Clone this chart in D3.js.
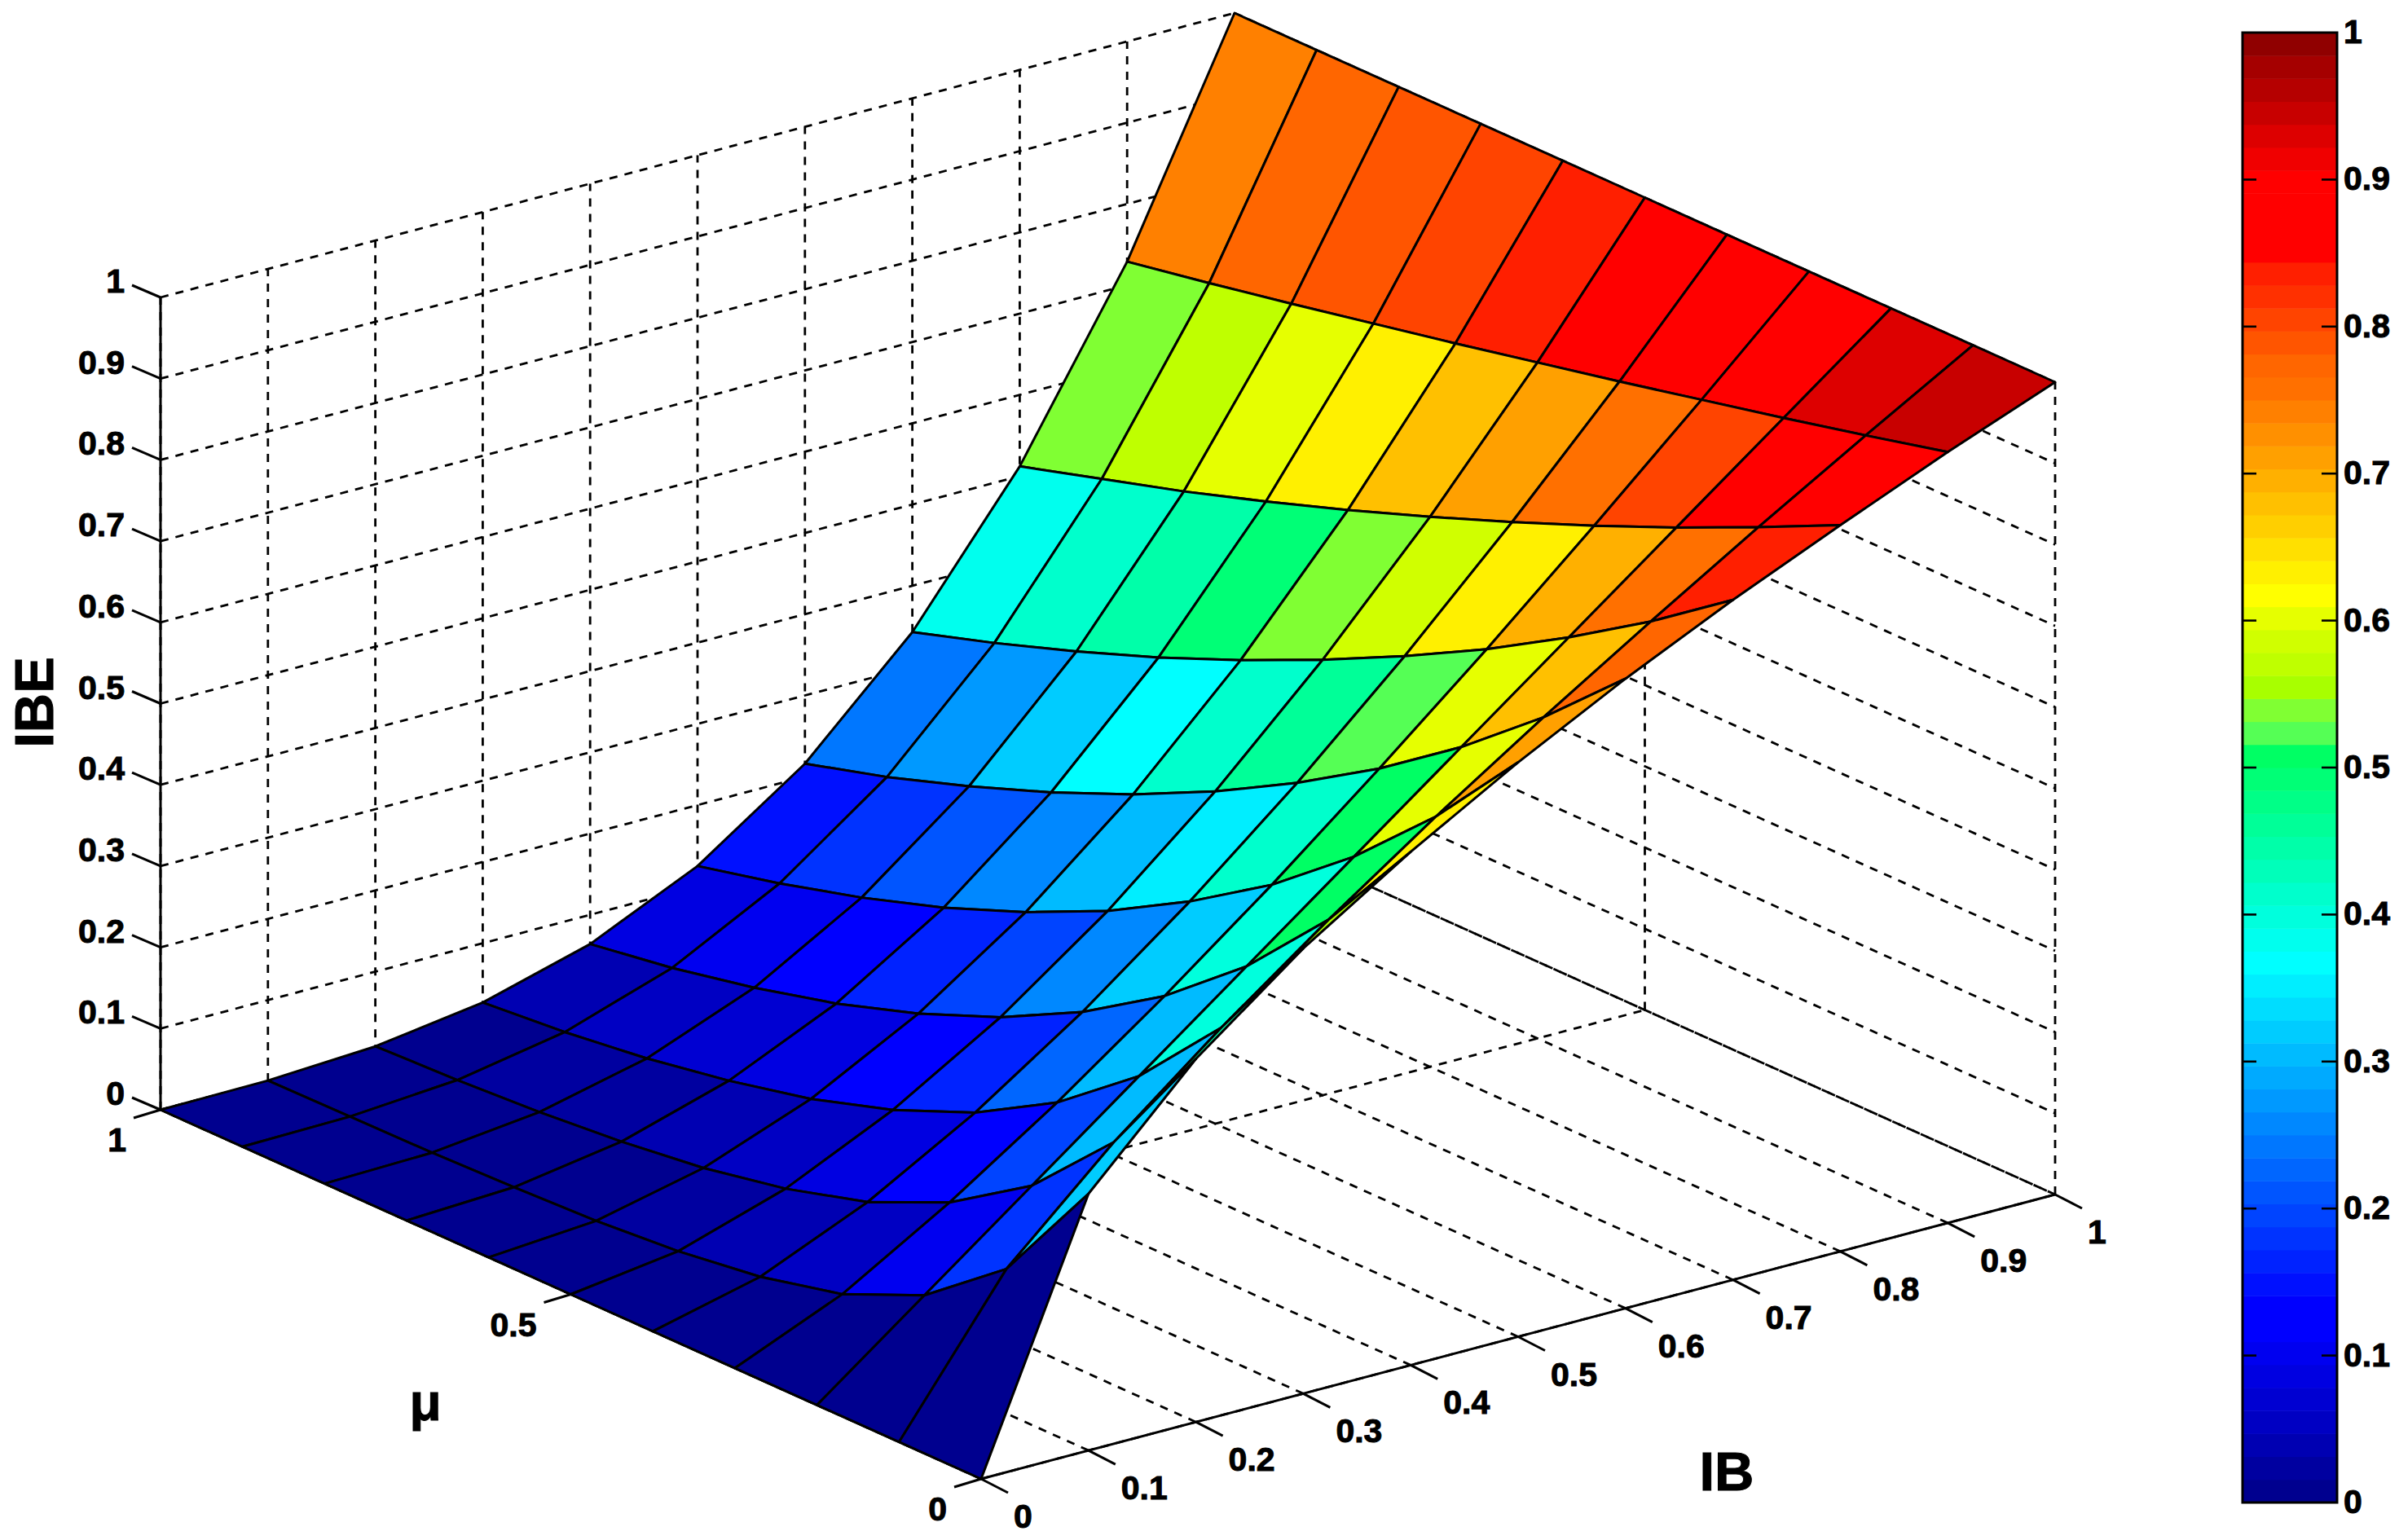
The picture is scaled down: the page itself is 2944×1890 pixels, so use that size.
<!DOCTYPE html>
<html><head><meta charset="utf-8">
<script src="https://cdn.jsdelivr.net/npm/d3@7/dist/d3.min.js"></script>
<style>
html,body{margin:0;padding:0;background:#fff;}
svg{display:block;}
text{font-family:"Liberation Sans",Arial,sans-serif;font-weight:bold;fill:#000;stroke:#000;stroke-width:1px;}
</style></head><body>
<svg id="chart" width="2944" height="1890"></svg>
<script>
const ibValues=[0,0.1,0.2,0.3,0.4,0.5,0.6,0.7,0.8,0.9,1];
const muValues=[0,0.1,0.2,0.3,0.4,0.5,0.6,0.7,0.8,0.9,1];
// IBE read from the surface: one row per IB, one column per mu
const ibeRow00=[0,0,0,0,0,0,0,0,0,0,0];
const ibeRow01=[.316,.178,.100,.056,.032,.018,.010,.006,.003,.002,.001];
const ibeRow02=[.447,.299,.200,.134,.089,.060,.040,.027,.018,.012,.008];
const ibeRow03=[.548,.405,.300,.222,.164,.122,.090,.067,.049,.036,.027];
const ibeRow04=[.632,.503,.400,.318,.253,.201,.160,.127,.101,.080,.064];
const ibeRow05=[.707,.595,.500,.420,.354,.297,.250,.210,.177,.149,.125];
const ibeRow06=[.775,.682,.600,.528,.465,.409,.360,.317,.279,.245,.216];
const ibeRow07=[.837,.765,.700,.640,.586,.536,.490,.448,.410,.375,.343];
const ibeRow08=[.894,.846,.800,.757,.716,.677,.640,.605,.572,.542,.512];
const ibeRow09=[.949,.924,.900,.877,.854,.832,.810,.789,.768,.748,.729];
const ibeRow10=[1,1,1,1,1,1,1,1,1,1,1];
const ibeRows=[ibeRow00,ibeRow01,ibeRow02,ibeRow03,ibeRow04,ibeRow05,ibeRow06,ibeRow07,ibeRow08,ibeRow09,ibeRow10];

const ibTicks=[0,0.1,0.2,0.3,0.4,0.5,0.6,0.7,0.8,0.9,1];
const muTicks=[0,0.5,1];
const zTicks=[0,0.1,0.2,0.3,0.4,0.5,0.6,0.7,0.8,0.9,1];
const barTicks=[0,0.1,0.2,0.3,0.4,0.5,0.6,0.7,0.8,0.9,1];

const colormap=["#00008f","#0000a0","#0000b2","#0000c3","#0000d2","#0000e1","#0000f0","#0000ff",
"#0000ff","#0010ff","#0022ff","#0033ff","#0044ff","#0055ff","#0066ff","#0077ff",
"#0088ff","#0099ff","#00aaff","#00bbff","#00ccff","#00ddff","#00eeff","#00ffff",
"#00ffee","#00ffdd","#00ffcc","#00ffba","#00ffa9","#00ff98","#00ff87","#00ff76",
"#00ff64","#55ff55","#80ff33","#a8ff00","#bfff00","#d0ff00","#e6ff00","#ffff00",
"#fff000","#ffe000","#ffcf00","#ffc000","#ffb000","#ffa000","#ff9000","#ff8000",
"#ff7000","#ff6600","#ff5500","#ff4400","#ff3000","#ff1f00","#ff0000","#ff0000",
"#ff0000","#ff0000","#f00000","#dd0000","#c80000","#b50000","#a50000","#900000"];

const svg=d3.select("#chart");

// Oblique projection: each data axis contributes a screen x and a screen y shift
const ibX=d3.scaleLinear().domain([0,1]).range([1204,2522]);
const ibY=d3.scaleLinear().domain([0,1]).range([1815,1466]);
const muX=d3.scaleLinear().domain([0,1]).range([0,-1007]);
const muY=d3.scaleLinear().domain([0,1]).range([0,-453]);
const zY=d3.scaleLinear().domain([0,1]).range([0,-997]);
const px=(ib,mu)=>ibX(ib)+muX(mu);
const py=(ib,mu,z)=>ibY(ib)+muY(mu)+zY(z);
const pt=(ib,mu,z)=>[px(ib,mu),py(ib,mu,z)];
const line=d3.line();
const color=z=>colormap[Math.min(colormap.length-1,Math.floor(z*colormap.length))];

// Dashed grid on the back walls and floor
const grid=svg.append("g").attr("fill","none").attr("stroke","#000")
  .attr("stroke-width",2.8).attr("stroke-dasharray","10 9");
const seg=(a,b)=>grid.append("path").attr("d",line([a,b]));
zTicks.forEach(z=>{seg(pt(0,1,z),pt(1,1,z));seg(pt(1,1,z),pt(1,0,z));});
ibTicks.forEach(ib=>{seg(pt(ib,1,0),pt(ib,1,1));seg(pt(ib,0,0),pt(ib,1,0));});
muTicks.forEach(mu=>{seg(pt(1,mu,0),pt(1,mu,1));seg(pt(0,mu,0),pt(1,mu,0));});

// Solid axes and ticks
const axes=svg.append("g").attr("fill","none").attr("stroke","#000").attr("stroke-width",3);
axes.append("path").attr("d",line([pt(0,1,0),pt(0,1,1)]));
axes.append("path").attr("d",line([pt(0,0,0),pt(1,0,0)]));
axes.append("path").attr("d",line([pt(0,0,0),pt(0,1,0)]));
const tick=(a,dx,dy)=>axes.append("path").attr("d",line([a,[a[0]+dx,a[1]+dy]]));
zTicks.forEach(z=>tick(pt(0,1,z),-35,-15));
ibTicks.forEach(ib=>tick(pt(ib,0,0),33,17));
muTicks.forEach(mu=>tick(pt(0,mu,0),-33,10));

// Surface, painted from the far corner to the near one
const faces=[];
for(let i=ibValues.length-2;i>=0;i--){
  for(let j=muValues.length-2;j>=0;j--){
    faces.push({i,j});
  }
}
svg.append("g").selectAll("path").data(faces).join("path")
  .attr("d",f=>line([
    pt(ibValues[f.i],muValues[f.j],ibeRows[f.i][f.j]),
    pt(ibValues[f.i+1],muValues[f.j],ibeRows[f.i+1][f.j]),
    pt(ibValues[f.i+1],muValues[f.j+1],ibeRows[f.i+1][f.j+1]),
    pt(ibValues[f.i],muValues[f.j+1],ibeRows[f.i][f.j+1])
  ])+"Z")
  .attr("fill",f=>color(ibeRows[f.i][f.j]))
  .attr("stroke","#000").attr("stroke-width",3).attr("stroke-linejoin","round");

// Tick labels
const labelSize=41;
const lab=(x,y,s,anchor)=>svg.append("text").attr("x",x).attr("y",y).attr("text-anchor",anchor)
  .attr("dominant-baseline","central").attr("font-size",labelSize).text(s);
zTicks.forEach(z=>{const p=pt(0,1,z);lab(p[0]-44,p[1]-20,String(z),"end");});
ibTicks.forEach(ib=>{const p=pt(ib,0,0);lab(p[0]+40,p[1]+46,String(ib),"start");});
muTicks.forEach(mu=>{const p=pt(0,mu,0);lab(p[0]-42,p[1]+37,String(mu),"end");});

// Axis titles
const titleSize=67;
svg.append("text").attr("x",0).attr("y",0).attr("font-size",titleSize).attr("text-anchor","middle")
  .attr("dominant-baseline","central").attr("transform","translate(41,862) rotate(-90)").text("IBE");
svg.append("text").attr("x",2119).attr("y",1805).attr("font-size",titleSize).attr("text-anchor","middle")
  .attr("dominant-baseline","central").text("IB");
svg.append("text").attr("x",522).attr("y",1721).attr("font-size",64).attr("text-anchor","middle")
  .attr("dominant-baseline","central").text("μ");

// Colour bar
const barY=d3.scaleLinear().domain([0,1]).range([1844,40]);
const barX=d3.scaleLinear().domain([0,1]).range([2752,2868]);
const bands=d3.range(colormap.length);
svg.append("g").selectAll("rect").data(bands).join("rect")
  .attr("x",barX(0)).attr("width",barX(1)-barX(0))
  .attr("y",k=>barY((k+1)/colormap.length))
  .attr("height",k=>barY(k/colormap.length)-barY((k+1)/colormap.length)+0.5)
  .attr("fill",k=>colormap[k]);
const barAxis=svg.append("g").attr("stroke","#000").attr("fill","none");
barAxis.append("rect").attr("x",barX(0)).attr("y",barY(1))
  .attr("width",barX(1)-barX(0)).attr("height",barY(0)-barY(1)).attr("stroke-width",3);
barTicks.slice(1,-1).forEach(t=>{
  barAxis.append("path").attr("stroke-width",2.6).attr("d",line([[barX(0),barY(t)],[barX(0)+17,barY(t)]]));
  barAxis.append("path").attr("stroke-width",2.6).attr("d",line([[barX(1),barY(t)],[barX(1)-19,barY(t)]]));
});
barTicks.forEach(t=>lab(2876,barY(t)-1,String(t),"start"));
</script>
</body></html>
